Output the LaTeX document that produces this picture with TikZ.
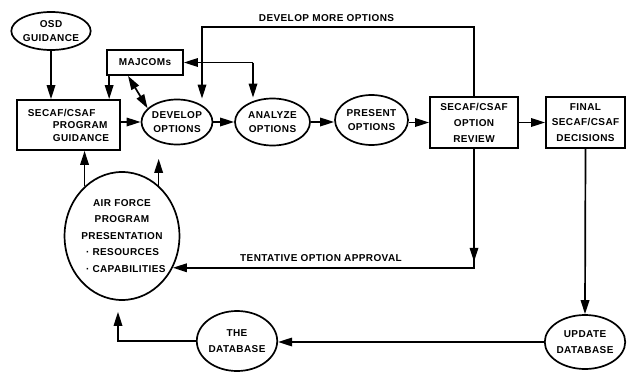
\documentclass[tikz,border=0pt]{standalone}
\usepackage{fontspec}
\setmainfont{Liberation Sans}[LetterSpace=4]
\usetikzlibrary{arrows.meta,shapes.geometric}
\begin{document}
\begin{tikzpicture}[x=1pt,y=-1pt,
  every node/.style={font=\bfseries\fontsize{10}{14}\selectfont, inner sep=0pt, align=center},
  ls/.style={font=\bfseries\fontsize{10}{#1}\selectfont},
  box/.style={draw, line width=1.7pt, rectangle},
  oval/.style={draw, line width=1.7pt, ellipse},
  conn/.style={line width=1.7pt, -{Triangle[length=14pt,width=8.5pt]}},
  dconn/.style={line width=1.7pt, {Triangle[length=14pt,width=8.5pt]}-{Triangle[length=14pt,width=8.5pt]}}]
\useasboundingbox (0,0) rectangle (632,372);
% nodes
\node[oval, ls=14, minimum width=76pt, minimum height=38pt] (osd) at (51,31) {OSD\\GUIDANCE};
\node[box, ls=12.5, align=left, minimum width=103pt, minimum height=50pt] (secaf) at (68.5,125) {SECAF/CSAF\\\hspace*{25pt}PROGRAM\\\hspace*{25pt}GUIDANCE};
\node[box, minimum width=76pt, minimum height=25pt] (maj) at (145,62.5) {MAJCOMs};
\node[oval, ls=13.5, minimum width=70pt, minimum height=45pt] (dev) at (177,122) {DEVELOP\\OPTIONS};
\node[oval, ls=13.5, minimum width=75pt, minimum height=47pt] (ana) at (272.5,122) {ANALYZE\\OPTIONS};
\node[oval, ls=13.5, minimum width=73pt, minimum height=50pt] (pres) at (371.5,120) {PRESENT\\OPTIONS};
\node[box, ls=16, minimum width=88pt, minimum height=51pt] (rev) at (474,122.5) {SECAF/CSAF\\OPTION\\REVIEW};
\node[box, ls=15.5, minimum width=79pt, minimum height=51pt] (fin) at (585.5,122.5) {FINAL\\SECAF/CSAF\\DECISIONS};
\node[oval, ls=16.5, minimum width=114pt, minimum height=128pt] (af) at (122,236) {AIR FORCE\\PROGRAM\\PRESENTATION\\\makebox[72pt][l]{· RESOURCES}\\\makebox[72pt][l]{· CAPABILITIES}};
\node[oval, ls=16, minimum width=77pt, minimum height=60pt] (db) at (237,341) {THE\\DATABASE};
\node[oval, ls=16, minimum width=80pt, minimum height=54pt] (upd) at (585,342) {UPDATE\\DATABASE};
\node (lbl1) at (326.5,18) {DEVELOP MORE OPTIONS};
\node (lbl2) at (321,258) {TENTATIVE OPTION APPROVAL};
% helper coordinates
\coordinate (dmL) at (202,27);
\coordinate (mjR) at (253,62.5);
\coordinate (ta) at (rev.south |- af.-32);
% connectors
\draw[conn] (osd.south) -- (osd.south |- secaf.north);
\draw[conn] ([xshift=3pt]maj.south west) -- ([xshift=3pt]maj.south west |- secaf.north);
\draw[dconn] ([xshift=-17pt]maj.south) -- (dev.155);
\draw[conn] (secaf.east |- dev.west) -- (dev.west);
\draw[conn] (dev.east) -- (ana.west);
\draw[conn] (ana.east) -- (ana.east -| pres.west);
\draw[conn] (pres.east |- rev.west) -- (rev.west);
\draw[conn] (rev.east) -- (fin.west);
\draw[conn] (rev.north) |- (dmL) -- (dmL |- dev.north);
\draw[conn] (mjR) -- (maj.east);
\draw[conn] (mjR) -- (mjR |- ana.north);
\draw[conn] (fin.south) -- (upd.north);
\draw[conn] (upd.west) -- (upd.west -| db.east);
\draw[conn, shorten >=11pt] (db.west) -| ([xshift=-4pt]af.south);
\draw[conn] (rev.south) |- (af.-32);
\draw[conn] (rev.south) -- ([yshift=6pt]ta);
\draw[conn] (af.127) -- (af.127 |- secaf.south);
\draw[conn, shorten >=13.5pt] (af.54) -- (af.54 |- dev.south);
\end{tikzpicture}
\end{document}
